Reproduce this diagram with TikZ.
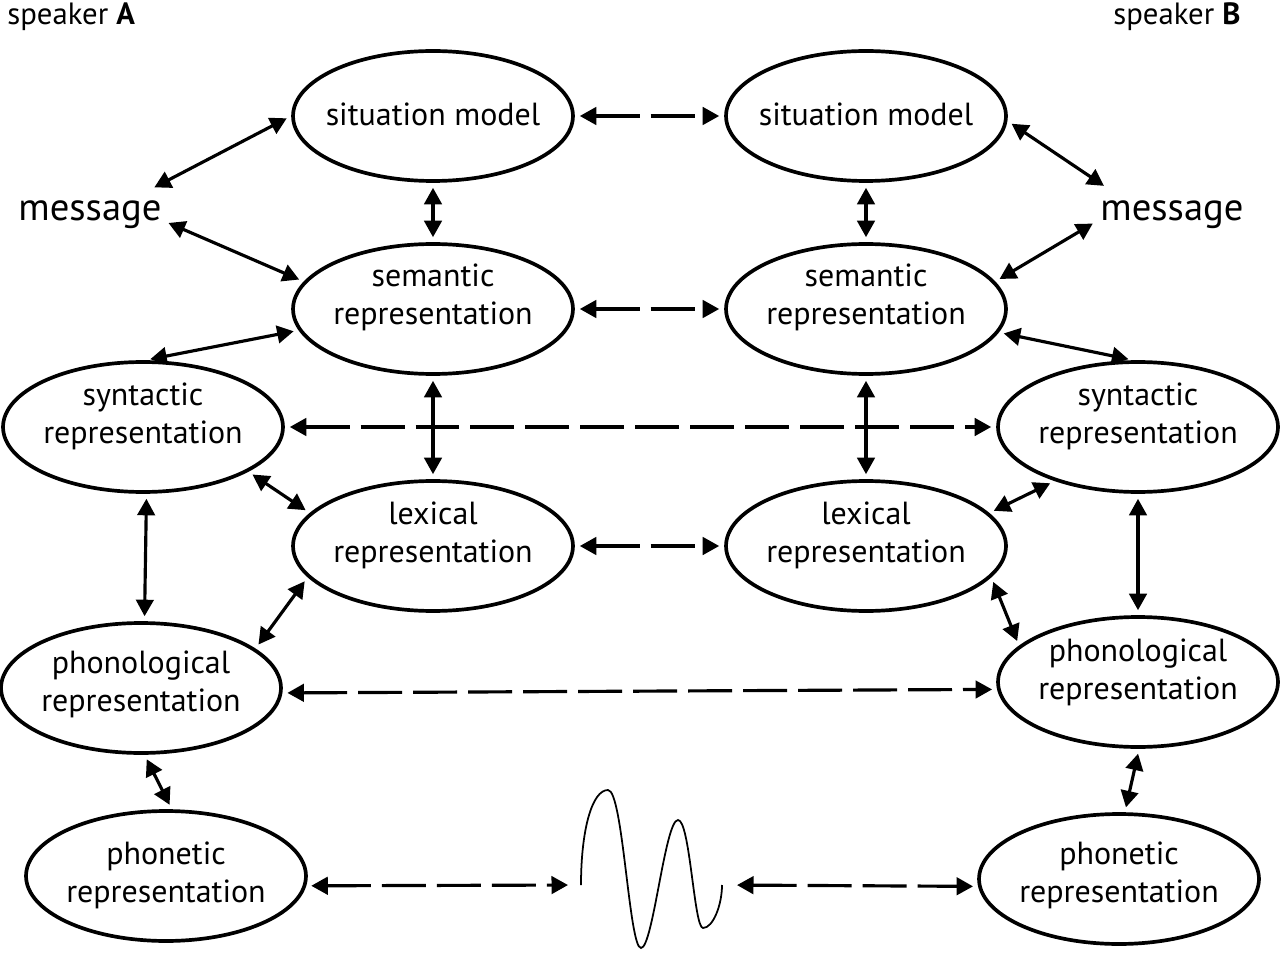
\documentclass[tikz,border=0pt]{standalone}
\usepackage{fontspec}
\setmainfont{PT Sans}
\usetikzlibrary{positioning, calc, shapes.geometric, arrows.meta}

\tikzset{
    repr/.style={draw, ellipse, line width=2.1pt, minimum width=5.6cm, minimum height=2.6cm,
        inner sep=0pt, inner xsep=-2mm, align=center, text depth=16pt,
        font=\fontsize{18.2}{21.6}\selectfont},
    oneline/.style={text depth=2pt},
    msg/.style={inner sep=0pt, font=\fontsize{22}{26}\selectfont},
    speaker/.style={inner sep=0pt, font=\fontsize{17.5}{20}\selectfont},
    link/.style={{Triangle[length=3.3mm,width=3.5mm]}-{Triangle[length=3.3mm,width=3.5mm]},
        line width=1.8pt, shorten <=1mm, shorten >=1mm},
    echo/.style={link, dash pattern=on 8.8mm off 2.2mm},
}

\begin{document}
\begin{tikzpicture}[x=0.02cm, y=-0.02cm]

        \useasboundingbox (0,0) rectangle (1281,959);

        \node[speaker, anchor=west] (spkA) at (7,17) {speaker \textbf{A}};
        \node[speaker, anchor=east] (spkB) at (1241,17) {speaker \textbf{B}};

        \node[repr, oneline] (sitA) at (433,116) {situation model};
        \node[repr, oneline] (sitB) at (866,116) {situation model};
        \node[repr, text depth=17pt] (semA) at (433,309) {semantic\\representation};
        \node[repr, text depth=17pt] (semB) at (866,309) {semantic\\representation};
        \node[repr] (synA) at (143,427) {syntactic\\representation};
        \node[repr] (synB) at (1138,427) {syntactic\\representation};
        \node[repr] (lexA) at (433,546) {lexical\\representation};
        \node[repr] (lexB) at (866,546) {lexical\\representation};
        \node[repr, text depth=8pt] (phonA) at (141,688) {phonological\\representation};
        \node[repr, text depth=15pt] (phonB) at (1138,682) {phonological\\representation};
        \node[repr, text depth=4pt] (phetA) at (166,876) {phonetic\\representation};
        \node[repr, text depth=8pt] (phetB) at (1119,879) {phonetic\\representation};

        \node[msg] (msgA) at (90,215) {message};
        \node[msg] (msgB) at (1172,215) {message};

        \coordinate (waveL) at (581,885);
        \coordinate (waveR) at (722,885);
        \draw[line width=1pt] (waveL) .. controls (581,830) and (592,790) .. (608,790)
            .. controls (623,790) and (629,948) .. (641,948)
            .. controls (653,948) and (665,820) .. (678,820)
            .. controls (690,820) and (694,928) .. (703,928)
            .. controls (713,928) and (722,905) .. (waveR);

        \draw[link] ([shift={(-12,-11)}]msgA.north east) -- (sitA.180);
        \draw[link] ([shift={(2,6)}]msgA.east) -- (semA.168);
        \draw[link] (sitA) -- (semA);
        \draw[link] (semA.189) -- (synA.88);
        \draw[link] (semA) -- (lexA);
        \draw[link] (synA.-23) -- (lexA.165);
        \draw[link] (synA.-87) -- (phonA.87);
        \draw[link] (lexA.194) -- (phonA.19);
        \draw[link] (phonA.-87) -- (phetA.85);

        \draw[link] (sitB.-2) -- ([shift={(8,-12)}]msgB.north west);
        \draw[link] ([shift={(-3,6)}]msgB.west) -- (semB.12);
        \draw[link] (sitB) -- (semB);
        \draw[link] (semB.-10) -- (synB.94);
        \draw[link] (semB) -- (lexB);
        \draw[link] (synB.213) -- (lexB.15);
        \draw[link] (synB) -- (phonB);
        \draw[link] (lexB.-14) -- (phonB.163);
        \draw[link] (phonB.-89) -- (phetB.85);

        \draw[echo] (sitA) -- (sitB);
        \draw[echo] (semA) -- (semB);
        \draw[echo] (synA) -- (synB);
        \draw[echo] (lexA) -- (lexB);
        \draw[echo] (phonA.-2) -- (phonB.183);
        \draw[echo, shorten >=2.6mm] (phetA.-4) -- (waveL);
        \draw[echo, shorten <=3mm] (waveR) -- (phetB.183);
    \end{tikzpicture}
\end{document}
